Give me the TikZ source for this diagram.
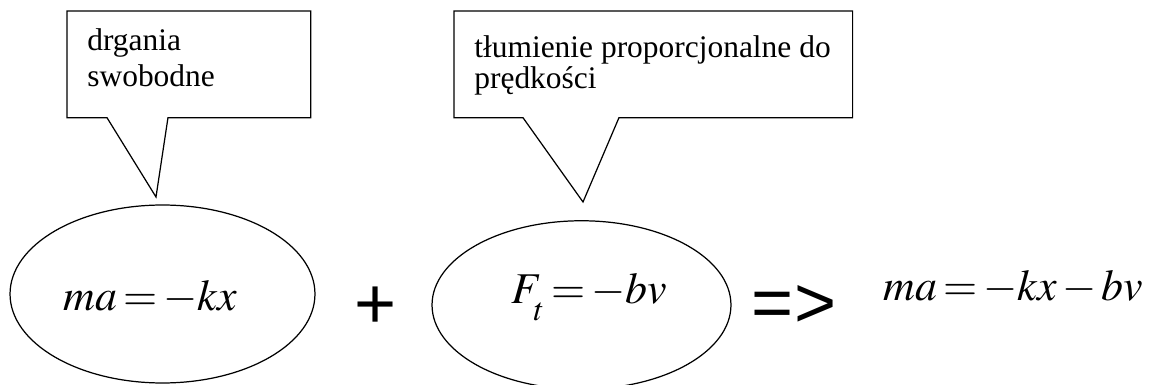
\documentclass[tikz,border=0pt]{standalone}
\usepackage{mathptmx}
\usepackage[no-math]{fontspec}
\setmainfont{Liberation Serif}
\newfontfamily\arialfont{Liberation Sans}
\usetikzlibrary{shapes.geometric,positioning,calc}
\newcommand{\tightmath}{\thickmuskip=2.5mu\relax\medmuskip=2mu\relax}

\begin{document}
\begin{tikzpicture}[x=0.02cm, y=-0.02cm,
  oval/.style={draw, ellipse, line width=0.7pt, inner sep=0pt},
  callbox/.style={minimum width=#1, minimum height=2.12cm, inner sep=0pt, anchor=north west},
  note/.style={anchor=base west, align=left, inner sep=0pt, font=\fontsize{17.9}{20.5}\selectfont},
  eqn/.style={anchor=base west, inner sep=0pt, font=\fontsize{25}{30}\selectfont},
  sym/.style={inner sep=0pt, font=\arialfont\fontsize{41}{41}\selectfont},
  outline/.style={line width=0.7pt, line join=miter}
]
  \useasboundingbox (0,0) rectangle (1150,385);

  \node[oval, minimum width=6.1cm, minimum height=3.56cm] (ov1) at (162.5,294) {};
  \node[oval, minimum width=5.98cm, minimum height=3.37cm] (ov2) at (581.5,305) {};

  \node[eqn] (eq1) at (63,310) {$\tightmath ma=-kx$};
  \node[eqn] (eq2) at (511,303) {$\tightmath F_{\lower6pt\hbox{$\scriptstyle t$}}=-bv$};
  \node[eqn] (res) at (883,300) {$\tightmath ma=-kx-bv$};

  \node[sym] (plus) at (376,308) {+};
  \node[sym] (impl) at (794,307) {=>};

  \node[callbox=4.86cm] (c1) at (67,11) {};
  \node[callbox=7.96cm] (c2) at (454,11) {};
  \coordinate (tip1) at (156,197);
  \coordinate (tip2) at (583,202);
  \draw[outline] (c1.north west) -- (c1.north east) -- (c1.south east)
    -- ([xshift=2.02cm]c1.south west) -- (tip1) -- ([xshift=0.8cm]c1.south west)
    -- (c1.south west) -- cycle;
  \draw[outline] (c2.north west) -- (c2.north east) -- (c2.south east)
    -- ([xshift=3.3cm]c2.south west) -- (tip2) -- ([xshift=1.38cm]c2.south west)
    -- (c2.south west) -- cycle;

  \node[note] (t1) at (87,87) {drgania\\swobodne};
  \node[note, font=\fontsize{17.9}{18.2}\selectfont] (t2) at (474,89) {tłumienie proporcjonalne do\\prędkości};
\end{tikzpicture}
\end{document}
